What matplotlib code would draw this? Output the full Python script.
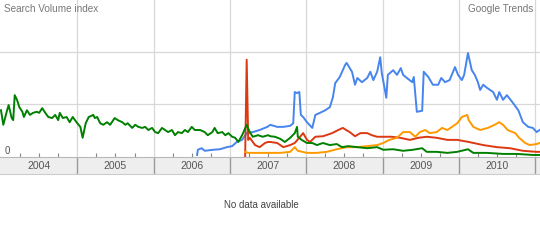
import matplotlib
matplotlib.use('Agg')
import matplotlib.pyplot as plt
import numpy as np

plt.rcParams['font.family'] = ['Liberation Sans', 'DejaVu Sans']

# weekly-ish samples (fractional year, search volume index)
blue_t = [2006.57, 2006.58, 2006.63, 2006.67, 2006.78, 2006.87, 2006.96, 2007.03, 2007.09, 2007.16,
          2007.22, 2007.30, 2007.39, 2007.49, 2007.53, 2007.62, 2007.70, 2007.79, 2007.83, 2007.85,
          2007.88, 2007.91, 2007.93, 2007.96, 2008.01, 2008.08, 2008.12, 2008.18, 2008.25, 2008.31,
          2008.35, 2008.38, 2008.44, 2008.51, 2008.53, 2008.60, 2008.64, 2008.67, 2008.73, 2008.80,
          2008.84, 2008.88, 2008.93, 2008.97, 2008.99, 2009.05, 2009.07, 2009.14, 2009.19, 2009.24,
          2009.27, 2009.32, 2009.39, 2009.41, 2009.45, 2009.52, 2009.54, 2009.60, 2009.66, 2009.73,
          2009.77, 2009.82, 2009.88, 2009.95, 2009.99, 2010.04, 2010.07, 2010.12, 2010.17, 2010.21,
          2010.25, 2010.28, 2010.32, 2010.37, 2010.41, 2010.45, 2010.50, 2010.53, 2010.58, 2010.63,
          2010.70, 2010.78, 2010.84, 2010.91, 2010.97, 2011.02, 2011.06]
blue_v = [0.02, 0.12, 0.15, 0.10, 0.12, 0.13, 0.17, 0.19, 0.27, 0.31,
          0.44, 0.46, 0.50, 0.56, 0.60, 0.56, 0.56, 0.58, 0.63, 1.23,
          1.21, 1.23, 0.79, 0.75, 0.65, 0.54, 0.79, 0.83, 0.88, 0.94,
          1.13, 1.40, 1.52, 1.75, 1.79, 1.62, 1.37, 1.50, 1.42, 1.50,
          1.62, 1.46, 1.62, 1.90, 1.60, 1.12, 1.56, 1.65, 1.56, 1.69,
          1.56, 1.50, 1.42, 1.52, 0.85, 0.87, 1.62, 1.52, 1.37, 1.37,
          1.50, 1.42, 1.46, 1.71, 1.56, 1.46, 1.56, 1.98, 1.65, 1.56,
          1.42, 1.27, 1.37, 1.31, 1.27, 1.23, 1.08, 1.23, 1.08, 1.17,
          1.04, 0.88, 0.65, 0.56, 0.54, 0.46, 0.50]

red_t = [2007.20, 2007.22, 2007.24, 2007.26, 2007.33, 2007.39, 2007.46, 2007.50, 2007.53, 2007.62,
         2007.70, 2007.79, 2007.85, 2007.92, 2007.96, 2008.01, 2008.05, 2008.12, 2008.22, 2008.34,
         2008.42, 2008.48, 2008.57, 2008.64, 2008.71, 2008.80, 2008.86, 2008.93, 2009.01, 2009.12,
         2009.23, 2009.36, 2009.47, 2009.58, 2009.71, 2009.85, 2009.98, 2010.13, 2010.32, 2010.50,
         2010.67, 2010.84, 2011.02, 2011.06]
red_v = [0.00, 1.85, 0.31, 0.35, 0.21, 0.17, 0.25, 0.27, 0.27, 0.25,
         0.17, 0.21, 0.25, 0.37, 0.44, 0.31, 0.27, 0.37, 0.38, 0.44,
         0.50, 0.54, 0.46, 0.38, 0.44, 0.44, 0.40, 0.37, 0.37, 0.37,
         0.35, 0.31, 0.35, 0.37, 0.35, 0.31, 0.31, 0.27, 0.21, 0.17,
         0.15, 0.10, 0.08, 0.08]

orange_t = [2007.20, 2007.24, 2007.36, 2007.49, 2007.53, 2007.66, 2007.79, 2007.85, 2007.89, 2008.01,
            2008.14, 2008.27, 2008.40, 2008.53, 2008.67, 2008.80, 2008.93, 2009.01, 2009.09, 2009.19,
            2009.27, 2009.36, 2009.43, 2009.49, 2009.56, 2009.62, 2009.71, 2009.78, 2009.85, 2009.91,
            2009.98, 2010.04, 2010.11, 2010.13, 2010.19, 2010.28, 2010.38, 2010.47, 2010.53, 2010.58,
            2010.64, 2010.74, 2010.79, 2010.87, 2010.93, 2011.02, 2011.06]
orange_v = [0.08, 0.06, 0.06, 0.06, 0.06, 0.06, 0.08, 0.17, 0.10, 0.06,
            0.06, 0.08, 0.13, 0.17, 0.17, 0.19, 0.21, 0.25, 0.31, 0.35,
            0.46, 0.46, 0.37, 0.46, 0.50, 0.44, 0.46, 0.54, 0.50, 0.56,
            0.63, 0.75, 0.79, 0.69, 0.56, 0.50, 0.54, 0.60, 0.65, 0.60,
            0.50, 0.44, 0.35, 0.25, 0.21, 0.23, 0.25]

green_t = [2004.00, 2004.03, 2004.08, 2004.10, 2004.14, 2004.16, 2004.18, 2004.21, 2004.24, 2004.28,
           2004.30, 2004.34, 2004.38, 2004.42, 2004.47, 2004.50, 2004.54, 2004.58, 2004.62, 2004.67,
           2004.71, 2004.75, 2004.77, 2004.81, 2004.86, 2004.90, 2004.94, 2005.00, 2005.04, 2005.07,
           2005.11, 2005.15, 2005.21, 2005.23, 2005.26, 2005.30, 2005.34, 2005.39, 2005.43, 2005.49,
           2005.53, 2005.59, 2005.63, 2005.66, 2005.72, 2005.76, 2005.80, 2005.85, 2005.89, 2005.93,
           2005.98, 2006.02, 2006.06, 2006.11, 2006.15, 2006.19, 2006.24, 2006.28, 2006.32, 2006.37,
           2006.41, 2006.45, 2006.50, 2006.54, 2006.61, 2006.67, 2006.71, 2006.77, 2006.80, 2006.84,
           2006.90, 2006.94, 2006.98, 2007.03, 2007.07, 2007.11, 2007.16, 2007.22, 2007.26, 2007.30,
           2007.37, 2007.43, 2007.50, 2007.53, 2007.59, 2007.66, 2007.72, 2007.79, 2007.85, 2007.88,
           2007.89, 2007.94, 2008.01, 2008.08, 2008.14, 2008.22, 2008.31, 2008.40, 2008.47, 2008.55,
           2008.67, 2008.80, 2008.93, 2009.01, 2009.14, 2009.27, 2009.40, 2009.52, 2009.58, 2009.71,
           2009.85, 2009.98, 2010.12, 2010.19, 2010.37, 2010.58, 2010.76, 2010.97, 2011.06]
green_v = [0.88, 0.60, 0.88, 0.98, 0.73, 0.69, 1.17, 1.08, 0.94, 0.85,
           0.75, 0.88, 0.79, 0.83, 0.85, 0.83, 0.92, 0.83, 0.75, 0.73,
           0.79, 0.69, 0.83, 0.73, 0.75, 0.65, 0.75, 0.63, 0.56, 0.35,
           0.63, 0.75, 0.79, 0.73, 0.75, 0.63, 0.60, 0.65, 0.60, 0.73,
           0.69, 0.65, 0.60, 0.63, 0.54, 0.60, 0.56, 0.54, 0.56, 0.50,
           0.54, 0.46, 0.44, 0.54, 0.50, 0.46, 0.50, 0.40, 0.46, 0.44,
           0.50, 0.46, 0.56, 0.50, 0.50, 0.46, 0.40, 0.46, 0.54, 0.44,
           0.46, 0.40, 0.44, 0.37, 0.35, 0.27, 0.40, 0.60, 0.46, 0.37,
           0.40, 0.37, 0.40, 0.38, 0.37, 0.33, 0.27, 0.35, 0.44, 0.56,
           0.37, 0.31, 0.25, 0.25, 0.21, 0.25, 0.21, 0.23, 0.17, 0.19,
           0.17, 0.15, 0.17, 0.12, 0.13, 0.10, 0.12, 0.15, 0.08, 0.08,
           0.06, 0.08, 0.13, 0.06, 0.06, 0.04, 0.04, 0.02, 0.02]

years = [2004, 2005, 2006, 2007, 2008, 2009, 2010]

x_lo = 2004 - 1 / 76.3
x_hi = 2004 + 539 / 76.3

fig = plt.figure(figsize=(5.4, 2.42), dpi=100)

# main chart
ax = fig.add_axes([0, 1 - 157 / 242, 1, 157 / 242])
ax.set_xlim(x_lo, x_hi)
ax.set_ylim(-1 / 52, 3.0)
for sp in ax.spines.values():
    sp.set_visible(False)
ax.set_xticks(list(range(2005, 2012)))
ax.set_xticks([y + q for y in years for q in (0.25, 0.5, 0.75)], minor=True)
ax.set_yticks([1, 2])
ax.tick_params(which='major', length=0, labelbottom=False, labelleft=False)
ax.tick_params(which='minor', axis='x', direction='in', length=3, width=0.8, color='#888888')
ax.grid(True, which='major', color='#d8d8d8', lw=0.9)
ax.set_axisbelow(True)

lw = 1.4
ax.plot(blue_t, blue_v, color='#4684ee', lw=lw)
ax.plot(red_t, red_v, color='#dc3912', lw=lw)
ax.plot(orange_t, orange_v, color='#ff9900', lw=lw)
ax.plot(green_t, green_v, color='#008000', lw=lw)

# year band
band = fig.add_axes([0, 1 - 174 / 242, 1, 17 / 242])
band.set_xlim(x_lo, x_hi)
band.set_ylim(0, 1)
band.set_facecolor('#eeeeee')
band.set_xticks([])
band.set_yticks([])
band.spines['left'].set_visible(False)
band.spines['right'].set_visible(False)
band.spines['top'].set_color('#b8b8b8')
band.spines['bottom'].set_color('#cccccc')
for y in range(2005, 2012):
    band.axvline(y, color='#999999', lw=1)
for y in years:
    band.text(y + 0.5, 0.45, str(y), ha='center', va='center', fontsize=7.5, color='#555555')

fig.text(4 / 540, 1 - 9 / 242, 'Search Volume index', ha='left', va='center',
         fontsize=7.2, color='#777777')
fig.text(533 / 540, 1 - 9 / 242, 'Google Trends', ha='right', va='center',
         fontsize=7.2, color='#777777')
fig.text(7 / 540, 1 - 151 / 242, '0', ha='center', va='center', fontsize=7, color='#555555')
fig.text(261 / 540, 1 - 205 / 242, 'No data available', ha='center', va='center',
         fontsize=7, color='#444444')

fig.savefig('out.png', dpi=100)
